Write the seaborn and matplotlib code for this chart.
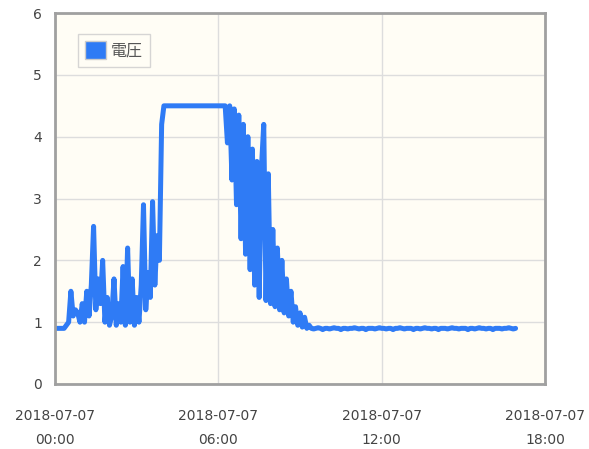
import pandas as pd
import matplotlib.pyplot as plt
import matplotlib.dates as mdates
from matplotlib.patches import Patch
import seaborn as sns

# voltage readings, one every 5 minutes from 2018-07-07 00:00
volts = [
    0.9, 0.9, 0.9, 0.9, 0.9, 0.95, 1.0, 1.5, 1.1, 1.2, 1.15, 1.0,
    1.3, 1.0, 1.5, 1.1, 1.6, 2.55, 1.2, 1.7, 1.3, 2.0, 1.0, 1.4,
    0.95, 1.1, 1.7, 0.95, 1.3, 1.0, 1.9, 0.95, 2.2, 1.0, 1.7, 0.95,
    1.4, 1.0, 1.6, 2.9, 1.2, 1.8, 1.4, 2.95, 1.6, 2.4, 2.0, 4.2,
    4.5, 4.5, 4.5, 4.5, 4.5, 4.5, 4.5, 4.5, 4.5, 4.5, 4.5, 4.5,
    4.5, 4.5, 4.5, 4.5, 4.5, 4.5, 4.5, 4.5, 4.5, 4.5, 4.5, 4.5,
    4.5, 4.5, 4.5, 4.5, 3.9, 4.5, 3.3, 4.45, 2.9, 4.35, 2.35, 4.2,
    2.1, 4.0, 1.85, 3.8, 1.6, 3.6, 1.4, 3.5, 4.2, 1.35, 3.4, 1.3,
    2.5, 1.25, 2.2, 1.2, 2.0, 1.15, 1.7, 1.1, 1.5, 1.0, 1.25, 0.95,
    1.15, 0.92, 1.08, 0.9, 0.95, 0.9, 0.89, 0.9, 0.91, 0.9, 0.88, 0.9,
    0.9, 0.89, 0.9, 0.91, 0.9, 0.9, 0.88, 0.9, 0.9, 0.89, 0.9, 0.9,
    0.91, 0.9, 0.89, 0.9, 0.9, 0.88, 0.9, 0.9, 0.9, 0.89, 0.9, 0.91,
    0.9, 0.9, 0.89, 0.9, 0.9, 0.88, 0.9, 0.9, 0.91, 0.9, 0.89, 0.9,
    0.9, 0.9, 0.88, 0.9, 0.9, 0.89, 0.9, 0.91, 0.9, 0.9, 0.89, 0.9,
    0.9, 0.88, 0.9, 0.9, 0.9, 0.89, 0.9, 0.91, 0.9, 0.9, 0.89, 0.9,
    0.9, 0.9, 0.88, 0.9, 0.9, 0.89, 0.9, 0.91, 0.9, 0.9, 0.89, 0.9,
    0.9, 0.88, 0.9, 0.9, 0.9, 0.89, 0.9, 0.9, 0.91, 0.9, 0.89, 0.9,
]
times = pd.date_range('2018-07-07 00:00', periods=len(volts), freq='5min')
df = pd.DataFrame({'time': times, 'volt': volts})

series_name = '電圧'
line_color = '#2f7bf5'

sns.set_style('white')
plt.rcParams['font.family'] = ['DejaVu Sans', 'Noto Sans CJK JP']

fig = plt.figure(figsize=(5.89, 4.49), dpi=100)
ax = fig.add_axes([0.0934, 0.1448, 0.832, 0.826])
ax.set_facecolor('#fffdf5')

sns.lineplot(data=df, x='time', y='volt', ax=ax, color=line_color,
             linewidth=3.6, legend=False)

ax.set_ylim(0, 6)
ax.set_yticks(range(0, 7))
ax.set_xlim(pd.Timestamp('2018-07-07 00:00'), pd.Timestamp('2018-07-07 18:00'))
ax.xaxis.set_major_locator(mdates.HourLocator(byhour=[0, 6, 12, 18]))
ax.xaxis.set_major_formatter(mdates.DateFormatter('%Y-%m-%d\n%H:%M'))
ax.set_xlabel('')
ax.set_ylabel('')

ax.grid(True, color='#dddddd', linewidth=1)
for s in ax.spines.values():
    s.set_color('#a0a0a0')
    s.set_linewidth(2)
ax.tick_params(axis='both', colors='#a0a0a0', labelcolor='#444444',
               labelsize=10, length=6, width=1.2, direction='out')
ax.tick_params(axis='x', pad=12)
for lbl in ax.get_xticklabels():
    lbl.set_linespacing(1.9)

handle = Patch(facecolor=line_color, edgecolor='#cccccc', label=series_name)
leg = ax.legend(handles=[handle], loc='upper left', bbox_to_anchor=(0.03, 0.965),
                frameon=True, fancybox=False, handlelength=1.3,
                handleheight=1.3, handletextpad=0.35, borderpad=0.45,
                prop={'family': ['Noto Sans CJK JP', 'DejaVu Sans'], 'size': 11.5})
leg.get_frame().set_edgecolor('#cccccc')
leg.get_frame().set_facecolor('#fffdf5')
for t in leg.get_texts():
    t.set_color('#555555')

fig.savefig('out.png', dpi=100)
